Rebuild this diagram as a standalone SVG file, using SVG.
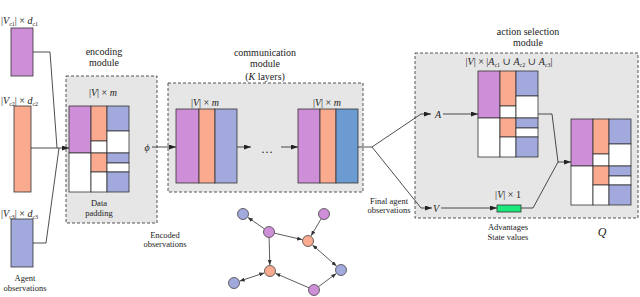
<svg xmlns="http://www.w3.org/2000/svg" width="640" height="297" viewBox="0 0 640 297" font-family="'Liberation Serif', 'DejaVu Serif', serif">
<style>
text{font-family:"Liberation Serif","DejaVu Serif",serif;fill:#222;stroke:none;}
.t{font-size:10px;text-anchor:middle;}
.s{font-size:8.5px;text-anchor:middle;}
.m{font-size:10px;}
.i{font-style:italic;}
.box{fill:#e6e6e6;stroke:#444;stroke-width:0.9;stroke-dasharray:3,2;}
.cell{stroke:#333;stroke-width:0.8;}
.pu{fill:#cf8fd8;}
.or{fill:#f9aa8f;}
.bl{fill:#a1a9dd;}
.db{fill:#6c9bd2;}
.wh{fill:#ffffff;}
.ln{fill:none;stroke:#222;stroke-width:0.8;}
.gl{fill:none;stroke:#333;stroke-width:0.8;}
.nd{stroke:#444;stroke-width:0.8;}
</style>
<defs>
<marker id="ar" viewBox="0 0 7 5" refX="7" refY="2.5" markerWidth="7" markerHeight="5" markerUnits="userSpaceOnUse" orient="auto-start-reverse"><path d="M0,0 L7,2.5 L0,5 z" fill="#222"/></marker>
<marker id="sa" viewBox="0 0 5 4" refX="5" refY="2" markerWidth="5" markerHeight="4" markerUnits="userSpaceOnUse" orient="auto-start-reverse"><path d="M0,0 L5,2 L0,4 z" fill="#333"/></marker>
<g id="mat" class="cell">
<rect class="pu" x="0" y="0" width="22" height="47"/>
<rect class="wh" x="0" y="47" width="22" height="39"/>
<rect class="or" x="22" y="0" width="16" height="35"/>
<rect class="wh" x="22" y="35" width="16" height="12"/>
<rect class="or" x="22" y="47" width="16" height="19"/>
<rect class="wh" x="22" y="66" width="16" height="20"/>
<rect class="bl" x="38" y="0" width="22" height="25"/>
<rect class="wh" x="38" y="25" width="22" height="22"/>
<rect class="bl" x="38" y="47" width="22" height="10"/>
<rect class="wh" x="38" y="57" width="22" height="9"/>
<rect class="bl" x="38" y="66" width="22" height="20"/>
</g>
</defs>

<!-- module boxes -->
<g id="encoding-module">
<rect class="box" x="66" y="76" width="91" height="147"/>
<text class="t" x="104" y="55">encoding</text>
<text class="t" x="104" y="66">module</text>
<text class="m" x="103" y="96" text-anchor="middle">|<tspan class="i">V</tspan>| × <tspan class="i">m</tspan></text>
<use href="#mat" x="69" y="106"/>
<text class="s" x="99" y="206">Data</text>
<text class="s" x="99" y="216">padding</text>
</g>

<g id="communication-module">
<rect class="box" x="168" y="83" width="195" height="109"/>
<text class="t" x="265" y="56">communication</text>
<text class="t" x="265" y="67">module</text>
<text class="t" x="265" y="80">(<tspan class="i">K</tspan> layers)</text>
</g>

<g id="action-module">
<rect class="box" x="415" y="53" width="223" height="165"/>
<text class="t" x="528" y="35">action selection</text>
<text class="t" x="528" y="46">module</text>
<text class="m" x="509" y="65" text-anchor="middle">|<tspan class="i">V</tspan>| × |<tspan class="i">A</tspan><tspan font-size="6" dy="2">c1</tspan><tspan dy="-2"> ∪ </tspan><tspan class="i">A</tspan><tspan font-size="6" dy="2">c2</tspan><tspan dy="-2"> ∪ </tspan><tspan class="i">A</tspan><tspan font-size="6" dy="2">c3</tspan><tspan dy="-2">|</tspan></text>
</g>

<!-- agent observations -->
<g id="obs-c1">
<text class="m" x="1" y="24">|<tspan class="i">V</tspan><tspan font-size="6" dy="2">c1</tspan><tspan dy="-2">| × </tspan><tspan class="i">d</tspan><tspan font-size="6" dy="2">c1</tspan></text>
<rect class="cell pu" x="11" y="28" width="22" height="48"/>
</g>
<g id="obs-c2">
<text class="m" x="1" y="104">|<tspan class="i">V</tspan><tspan font-size="6" dy="2">c2</tspan><tspan dy="-2">| × </tspan><tspan class="i">d</tspan><tspan font-size="6" dy="2">c2</tspan></text>
<rect class="cell or" x="14" y="106" width="17" height="86"/>
</g>
<g id="obs-c3">
<text class="m" x="1" y="217">|<tspan class="i">V</tspan><tspan font-size="6" dy="2">c3</tspan><tspan dy="-2">| × </tspan><tspan class="i">d</tspan><tspan font-size="6" dy="2">c3</tspan></text>
<rect class="cell bl" x="11" y="219" width="22" height="48"/>
</g>
<g id="agent-obs-label">
<text class="s" x="25" y="281">Agent</text>
<text class="s" x="25" y="291">observations</text>
</g>

<!-- communication layers -->
<g id="comm-layer-1">
<text class="m" x="205" y="106" text-anchor="middle">|<tspan class="i">V</tspan>| × <tspan class="i">m</tspan></text>
<rect class="cell pu" x="176" y="109" width="23" height="74"/>
<rect class="cell or" x="199" y="109" width="16" height="74"/>
<rect class="cell bl" x="215" y="109" width="22" height="74"/>
</g>
<g id="comm-layer-k">
<text class="m" x="327" y="106" text-anchor="middle">|<tspan class="i">V</tspan>| × <tspan class="i">m</tspan></text>
<rect class="cell pu" x="298" y="109" width="22" height="74"/>
<rect class="cell or" x="320" y="109" width="16" height="74"/>
<rect class="cell db" x="336" y="109" width="22" height="74"/>
</g>
<text x="267" y="153" font-size="12" text-anchor="middle">…</text>

<!-- action selection -->
<g id="advantages-matrix"><use href="#mat" x="478" y="71"/></g>
<g id="state-values">
<text class="m" x="508" y="198" text-anchor="middle">|<tspan class="i">V</tspan>| × 1</text>
<rect x="497" y="205" width="24" height="7" fill="#1de87a" stroke="#333" stroke-width="0.8"/>
</g>
<g id="q-matrix"><use href="#mat" x="571" y="119"/>
<text x="602" y="236" font-size="12" class="i" text-anchor="middle">Q</text>
</g>

<!-- labels -->
<text x="147" y="151" class="m i" text-anchor="middle">ϕ</text>
<text x="438" y="118" class="m i" text-anchor="middle">A</text>
<text x="436" y="212" class="m i" text-anchor="middle">V</text>
<text class="s" x="165" y="238">Encoded</text>
<text class="s" x="165" y="247">observations</text>
<text class="s" x="389" y="204">Final agent</text>
<text class="s" x="389" y="213">observations</text>
<text class="s" x="508" y="230">Advantages</text>
<text class="s" x="508" y="240">State values</text>

<!-- connectors -->
<g id="connectors">
<polyline class="ln" points="33,52 50,52 57,148"/>
<polyline class="ln" points="33,243 46,243 59,148"/>
<line class="ln" x1="31" y1="148" x2="69" y2="148" marker-end="url(#ar)"/>
<line class="ln" x1="152" y1="147" x2="176" y2="147" marker-end="url(#ar)"/>
<line class="ln" x1="237" y1="147" x2="251" y2="147" marker-end="url(#ar)"/>
<line class="ln" x1="281" y1="147" x2="298" y2="147" marker-end="url(#ar)"/>
<polyline class="ln" points="358,147 372,147 421,114 431,114" marker-end="url(#ar)"/>
<polyline class="ln" points="372,147 421,208 432,208" marker-end="url(#ar)"/>
<line class="ln" x1="443" y1="114" x2="478" y2="114" marker-end="url(#ar)"/>
<line class="ln" x1="441" y1="208" x2="497" y2="208" marker-end="url(#ar)"/>
<polyline class="ln" points="538,114 552,114 558,162"/>
<polyline class="ln" points="521,208 533,208 558,162 571,162" marker-end="url(#ar)"/>
<!-- graph edges -->
<line class="gl" x1="264.5" y1="228.9" x2="247.9" y2="217.4" marker-end="url(#sa)"/>
<line class="gl" x1="274.4" y1="233.2" x2="302.1" y2="239.6" marker-end="url(#sa)"/>
<line class="gl" x1="321.2" y1="218.7" x2="311.1" y2="235.8" marker-end="url(#sa)"/>
<line class="gl" x1="269.1" y1="237.5" x2="269.8" y2="265" stroke="#666" marker-end="url(#sa)"/>
<line class="gl" x1="312.5" y1="245" x2="336.5" y2="266" marker-start="url(#sa)" marker-end="url(#sa)"/>
<line class="gl" x1="264.3" y1="272.9" x2="239.7" y2="281.1" marker-start="url(#sa)" marker-end="url(#sa)"/>
<line class="gl" x1="309" y1="287.8" x2="275.5" y2="273.4" marker-end="url(#sa)"/>
<line class="gl" x1="318.4" y1="286.7" x2="336.2" y2="273.6" marker-end="url(#sa)"/>
</g>

<!-- graph nodes -->
<g id="g-a"><circle class="nd bl" cx="243" cy="214" r="5.5"/></g>
<g id="g-b"><circle class="nd pu" cx="269" cy="232" r="5.5"/></g>
<g id="g-c"><circle class="nd pu" cx="324" cy="214" r="5.5"/></g>
<g id="g-d"><circle class="nd or" cx="308" cy="241" r="5.5"/></g>
<g id="g-e"><circle class="nd or" cx="270" cy="271" r="5.5"/></g>
<g id="g-f"><circle class="nd bl" cx="234" cy="283" r="5.5"/></g>
<g id="g-g"><circle class="nd bl" cx="341" cy="270" r="5.5"/></g>
<g id="g-h"><circle class="nd pu" cx="314" cy="290" r="5.5"/></g>
</svg>
